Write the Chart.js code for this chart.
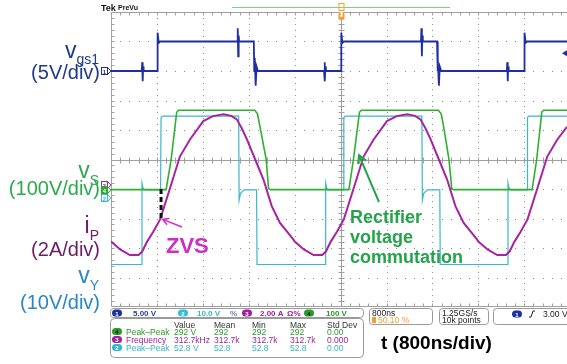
<!DOCTYPE html>
<html>
<head>
<meta charset="utf-8">
<script src="https://cdn.jsdelivr.net/npm/chart.js@4.4.1/dist/chart.umd.min.js"></script>
<style>
  html, body { margin: 0; padding: 0; background: #fff; }
  canvas { display: block; }
</style>
</head>
<body>
<canvas id="scope" width="567" height="364"></canvas>
<script>
// time axis in divisions (800 ns/div), amplitudes in divisions from screen centre

// ch1 gate voltage vgs1 (5V/div)
const vgsT = [0, 0.67, 0.68, 0.69, 0.70, 0.71, 1.01, 1.015, 1.04, 1.07, 2.75, 2.76, 2.77, 2.78, 2.79, 3.11, 3.12, 3.13, 3.15, 3.17, 3.20,
  4.64, 4.65, 4.66, 4.67, 4.68, 5.01, 5.015, 5.04, 5.07, 6.75, 6.76, 6.77, 6.78, 6.79, 7.10, 7.11, 7.12, 7.14, 7.16, 7.19,
  8.62, 8.63, 8.64, 8.65, 8.66, 9.00, 9.005, 9.03, 9.06, 9.93];
const vgsV = [3.0, 3.0, 3.3, 2.65, 3.15, 3.0, 3.0, 4.3, 3.95, 4.0, 4.0, 4.45, 3.5, 4.2, 4.0, 4.0, 3.0, 3.45, 2.5, 3.15, 3.0,
  3.0, 3.3, 2.65, 3.15, 3.0, 3.0, 4.3, 3.95, 4.0, 4.0, 4.45, 3.5, 4.2, 4.0, 4.0, 3.0, 3.45, 2.5, 3.15, 3.0,
  3.0, 3.3, 2.65, 3.15, 3.0, 3.0, 4.3, 3.95, 4.0, 4.0];

// ch2 vY (10V/div)
const vyT = [0, 0.67, 0.675, 0.70, 0.74, 1.08, 1.09, 1.12, 2.78, 2.79, 2.82, 2.90, 3.17, 3.18,
  4.67, 4.675, 4.70, 4.74, 5.06, 5.07, 5.10, 6.77, 6.78, 6.81, 6.89, 7.16, 7.17,
  8.64, 8.645, 8.67, 8.71, 9.06, 9.07, 9.10, 9.93];
const vyV = [-3.56, -3.56, -0.8, -0.98, -1.03, -1.03, 1.42, 1.47, 1.47, -1.38, -1.15, -1.03, -1.03, -3.56,
  -3.56, -0.8, -0.98, -1.03, -1.03, 1.42, 1.47, 1.47, -1.38, -1.15, -1.03, -1.03, -3.56,
  -3.56, -0.8, -0.98, -1.03, -1.03, 1.42, 1.47, 1.47];

// ch3 primary current iP (2A/div)
const ipT = [0, 0.20, 0.41, 0.60, 0.68, 0.78, 0.92, 1.07, 1.29, 1.50, 1.72, 2.01, 2.22, 2.45, 2.62, 2.74, 2.85, 2.96, 3.14, 3.32, 3.50, 3.68, 3.97,
  4.00, 4.20, 4.41, 4.60, 4.68, 4.78, 4.92, 5.07, 5.29, 5.50, 5.72, 6.01, 6.22, 6.45, 6.62, 6.74, 6.85, 6.96, 7.14, 7.32, 7.50, 7.68, 7.97,
  8.00, 8.20, 8.41, 8.60, 8.68, 8.78, 8.92, 9.07, 9.29, 9.50, 9.72, 9.93];
const ipV = [-2.78, -3.05, -3.24, -3.24, -3.12, -2.80, -2.45, -2.03, -0.95, 0.10, 0.68, 1.30, 1.47, 1.53, 1.48, 1.36, 1.05, 0.68, 0.00, -0.68, -1.58, -2.15, -2.71,
  -2.78, -3.05, -3.24, -3.24, -3.12, -2.80, -2.45, -2.03, -0.95, 0.10, 0.68, 1.30, 1.47, 1.53, 1.48, 1.36, 1.05, 0.68, 0.00, -0.68, -1.58, -2.15, -2.71,
  -2.78, -3.05, -3.24, -3.24, -3.12, -2.80, -2.45, -2.03, -0.95, 0.10, 0.68, 1.11];

// ch4 switch-node voltage vS (100V/div)
const vsT = [0, 1.20, 1.31, 1.43, 1.47, 3.13, 3.19, 3.24, 3.38, 3.43, 3.47,
  5.18, 5.28, 5.41, 5.45, 7.13, 7.19, 7.24, 7.36, 7.42, 7.46,
  9.17, 9.27, 9.38, 9.42, 9.93];
const vsV = [-1.02, -1.02, 0, 1.6, 1.67, 1.67, 1.55, 1.15, 0, -0.98, -1.02,
  -1.02, 0, 1.6, 1.67, 1.67, 1.55, 1.15, 0, -0.98, -1.02,
  -1.02, 0, 1.6, 1.67, 1.67];

// ground reference markers on the left edge
const refNames = ['1', '3', '4', '2'];
const refLevels = [3.0, -0.86, -1.03, -1.32];
const refColors = ['#1f2fa0', '#a8239f', '#2fa82f', '#3ab7c9'];

// measurement table
const measHead = ['Value', 'Mean', 'Min', 'Max', 'Std Dev'];
const measNames = ['Peak\u2013Peak', 'Frequency', 'Peak\u2013Peak'];
const measCh = ['4', '3', '2'];
const measRows = [
  ['292 V', '292', '292', '292', '0.00'],
  ['312.7kHz', '312.7k', '312.7k', '312.7k', '0.000'],
  ['52.8 V', '52.8', '52.8', '52.8', '0.00']
];
const measColors = ['#2a9a2a', '#a020a0', '#30b8c8'];

const toPts = (t, v) => t.map((x, i) => ({ x: x, y: v[i] }));

const graticule = {
  id: 'graticule',
  beforeDatasetsDraw(chart) {
    const { ctx, chartArea: a, scales: { x, y } } = chart;
    ctx.save();
    ctx.fillStyle = '#8e8e8e';
    for (let i = 1; i <= 9; i++) {
      if (i === 5) continue;
      const px = Math.round(x.getPixelForValue(i));
      for (let k = 1; k < 50; k++) ctx.fillRect(px, Math.round(y.getPixelForValue(-5 + k * 0.2)), 1, 1);
    }
    for (let j = -4; j <= 4; j++) {
      if (j === 0) continue;
      const py = Math.round(y.getPixelForValue(j));
      for (let k = 1; k < 50; k++) {
        const px = Math.round(x.getPixelForValue(k * 0.2));
        if (px < a.right) ctx.fillRect(px, py, 1, 1);
      }
    }
    ctx.strokeStyle = '#a0a0a0';
    ctx.lineWidth = 1;
    const cx = Math.round(x.getPixelForValue(5)) + 0.5;
    const cy = Math.round(y.getPixelForValue(0)) + 0.5;
    const L = Math.round(a.left) + 0.5, T = Math.round(a.top) + 0.5, B = Math.round(a.bottom) - 0.5;
    ctx.beginPath();
    ctx.moveTo(L, cy); ctx.lineTo(a.right, cy);
    ctx.moveTo(cx, T); ctx.lineTo(cx, B);
    ctx.moveTo(a.right, T); ctx.lineTo(L, T); ctx.lineTo(L, B); ctx.lineTo(a.right, B);
    for (let k = 1; k < 50; k++) {
      const px = Math.round(x.getPixelForValue(k * 0.2)) + 0.5;
      if (px > a.right) break;
      ctx.moveTo(px, cy - 3); ctx.lineTo(px, cy + 3);
      ctx.moveTo(px, T); ctx.lineTo(px, T + 3);
      ctx.moveTo(px, B); ctx.lineTo(px, B - 3);
    }
    for (let k = 1; k < 50; k++) {
      const py = Math.round(y.getPixelForValue(-5 + k * 0.2)) + 0.5;
      ctx.moveTo(cx - 3, py); ctx.lineTo(cx + 3, py);
      ctx.moveTo(L, py); ctx.lineTo(L + 3, py);
    }
    ctx.stroke();
    ctx.restore();
  }
};

function rrect(ctx, x, y, w, h, r) {
  ctx.beginPath();
  ctx.moveTo(x + r, y);
  ctx.arcTo(x + w, y, x + w, y + h, r);
  ctx.arcTo(x + w, y + h, x, y + h, r);
  ctx.arcTo(x, y + h, x, y, r);
  ctx.arcTo(x, y, x + w, y, r);
  ctx.closePath();
}

function arrow(ctx, x1, y1, x2, y2, color, w, head) {
  const a = Math.atan2(y2 - y1, x2 - x1);
  ctx.strokeStyle = color;
  ctx.lineWidth = w;
  ctx.beginPath();
  ctx.moveTo(x1, y1); ctx.lineTo(x2, y2);
  ctx.moveTo(x2 - head * Math.cos(a - 0.5), y2 - head * Math.sin(a - 0.5));
  ctx.lineTo(x2, y2);
  ctx.lineTo(x2 - head * Math.cos(a + 0.5), y2 - head * Math.sin(a + 0.5));
  ctx.stroke();
}

function pill(ctx, x, y, color, label, txt) {
  ctx.fillStyle = color;
  rrect(ctx, x, y, 10, 7, 3.5);
  ctx.fill();
  ctx.fillStyle = txt;
  ctx.font = 'bold 6px "Liberation Sans"';
  ctx.textAlign = 'center';
  ctx.fillText(label, x + 5, y + 6);
  ctx.textAlign = 'left';
}

const overlay = {
  id: 'overlay',
  afterDraw(chart) {
    const { ctx, scales: { x, y } } = chart;
    const px = v => x.getPixelForValue(v);
    const py = v => y.getPixelForValue(v);
    ctx.save();
    ctx.textBaseline = 'alphabetic';

    // scope header
    ctx.fillStyle = '#111';
    ctx.font = 'bold 9px "Liberation Sans"';
    ctx.fillText('Tek', 101, 11);
    ctx.font = 'bold 7px "Liberation Sans"';
    ctx.fillText('PreVu', 118, 10);
    ctx.strokeStyle = '#7fcf7f';
    ctx.lineWidth = 1;
    ctx.beginPath(); ctx.moveTo(232, 7.5); ctx.lineTo(450, 7.5); ctx.stroke();
    const tx = Math.round(px(5)) + 0.5;
    ctx.strokeStyle = '#f0a030';
    ctx.strokeRect(tx - 2.5, 3.5, 5, 7);
    ctx.fillStyle = '#f0a030';
    rrect(ctx, tx - 3, 12, 6, 8, 2); ctx.fill();
    ctx.fillStyle = '#fff';
    ctx.fillRect(tx - 1, 12, 2, 5);

    // ground reference markers
    refNames.forEach((n, i) => {
      const yy = Math.round(py(refLevels[i]));
      ctx.fillStyle = i === 2 ? refColors[i] : '#fff';
      ctx.strokeStyle = refColors[i];
      ctx.lineWidth = 1;
      ctx.fillRect(101.5, yy - 3.5, 6, 7);
      ctx.strokeRect(101.5, yy - 3.5, 6, 7);
      ctx.beginPath(); ctx.moveTo(108, yy - 3); ctx.lineTo(111, yy); ctx.lineTo(108, yy + 3); ctx.stroke();
      ctx.fillStyle = i === 2 ? '#fff' : refColors[i];
      ctx.font = 'bold 6px "Liberation Sans"';
      ctx.textAlign = 'center';
      ctx.fillText(n, 104.5, yy + 2.5);
      ctx.textAlign = 'left';
    });
    // trigger level marker on the right edge
    ctx.fillStyle = '#1f2fa0';
    const ty = py(3.6);
    ctx.beginPath(); ctx.moveTo(562, ty); ctx.lineTo(567, ty - 3); ctx.lineTo(567, ty + 3); ctx.fill();

    // signal labels on the left
    const sigLabel = (main, sub, unit, color, yMain, ySub, yUnit) => {
      const right = 99;
      ctx.fillStyle = color;
      ctx.textAlign = 'left';
      ctx.font = '14px "Liberation Sans"';
      const sw = ctx.measureText(sub).width;
      ctx.font = '23px "Liberation Sans"';
      const mw = ctx.measureText(main).width;
      ctx.fillText(main, right - sw - mw, yMain);
      ctx.font = '14px "Liberation Sans"';
      ctx.fillText(sub, right - sw, ySub);
      ctx.font = '20px "Liberation Sans"';
      ctx.textAlign = 'right';
      ctx.fillText(unit, right + 1, yUnit);
      ctx.textAlign = 'left';
    };
    sigLabel('v', 'gs1', '(5V/div)', '#1e3a8c', 58, 64, 79);
    sigLabel('v', 'S', '(100V/div)', '#2daa4f', 178, 185, 195);
    sigLabel('i', 'P', '(2A/div)', '#6d2066', 233, 240, 256);
    sigLabel('v', 'Y', '(10V/div)', '#2b86c8', 283, 290, 309);

    // ZVS annotation
    const zx = px(1.09), zy = py(-2.03);
    ctx.strokeStyle = '#111';
    ctx.lineWidth = 3;
    ctx.setLineDash([5, 3]);
    ctx.beginPath(); ctx.moveTo(zx, py(-1.0)); ctx.lineTo(zx, zy); ctx.stroke();
    ctx.setLineDash([]);
    arrow(ctx, 182, 227, zx + 1.5, zy, '#cc2fc8', 1.5, 7);
    ctx.fillStyle = '#cc2fc8';
    ctx.font = 'bold 22px "Liberation Sans"';
    ctx.fillText('ZVS', 166, 253);

    // rectifier commutation annotation
    arrow(ctx, 379, 202, px(5.40), py(0.15), '#24a34a', 2, 9);
    ctx.fillStyle = '#24a34a';
    ctx.font = 'bold 18px "Liberation Sans"';
    ctx.fillText('Rectifier', 350, 223);
    ctx.fillText('voltage', 350, 243);
    ctx.fillText('commutation', 350, 263);

    // bottom status bar
    ctx.strokeStyle = '#9a9a9a';
    ctx.lineWidth = 1;
    rrect(ctx, 110.5, 308.5, 253, 9, 3); ctx.stroke();
    ctx.font = 'bold 8px "Liberation Sans"';
    pill(ctx, 112, 309.5, '#1f2fa0', '1', '#fff');
    ctx.font = 'bold 8px "Liberation Sans"';
    ctx.fillStyle = '#2a3aa8'; ctx.fillText('5.00 V', 133, 316);
    pill(ctx, 178, 309.5, '#30c0d0', '2', '#fff');
    ctx.font = 'bold 8px "Liberation Sans"';
    ctx.fillStyle = '#30b8c8'; ctx.fillText('10.0 V', 197, 316);
    ctx.fillStyle = '#6080c0'; ctx.fillText('%', 230, 316);
    pill(ctx, 242, 309.5, '#a020a0', '3', '#fff');
    ctx.font = 'bold 8px "Liberation Sans"';
    ctx.fillStyle = '#a020a0'; ctx.fillText('2.00 A', 260, 316);
    ctx.fillText('\u03a9%', 287, 316);
    pill(ctx, 304, 309.5, '#2a9a2a', '4', '#111');
    ctx.font = 'bold 8px "Liberation Sans"';
    ctx.fillStyle = '#2a9a2a'; ctx.fillText('100 V', 326, 316);

    // measurement table
    ctx.strokeStyle = '#9a9a9a';
    rrect(ctx, 110.5, 318.5, 253, 39, 4); ctx.stroke();
    const cols = [174, 214, 252, 290, 327];
    ctx.font = '8.5px "Liberation Sans"';
    ctx.fillStyle = '#333';
    measHead.forEach((h, i) => ctx.fillText(h, cols[i], 327.5));
    const rowY = [334.5, 342.5, 350.5];
    measRows.forEach((row, r) => {
      pill(ctx, 112, rowY[r] - 6.5, measColors[r], measCh[r], r === 0 ? '#111' : '#fff');
      ctx.font = '8.5px "Liberation Sans"';
      ctx.fillStyle = measColors[r];
      ctx.fillText(measNames[r], 126, rowY[r]);
      row.forEach((v, i) => ctx.fillText(v, cols[i], rowY[r]));
    });

    // timebase and acquisition boxes
    ctx.strokeStyle = '#9a9a9a';
    rrect(ctx, 369.5, 308.5, 63, 16, 3); ctx.stroke();
    rrect(ctx, 439.5, 308.5, 49, 16, 3); ctx.stroke();
    rrect(ctx, 493.5, 308.5, 80, 16, 3); ctx.stroke();
    ctx.font = '8.5px "Liberation Sans"';
    ctx.fillStyle = '#222';
    ctx.fillText('800ns', 372, 315.5);
    ctx.fillText('1.25GS/s', 442, 315.5);
    ctx.fillText('10k points', 442, 322.5);
    ctx.fillStyle = '#f0a030';
    ctx.fillRect(372, 317, 4, 6);
    ctx.fillText('50.10 %', 378, 322.5);
    pill(ctx, 512, 310.5, '#1f2fa0', '1', '#fff');
    ctx.strokeStyle = '#222';
    ctx.lineWidth = 1;
    ctx.beginPath(); ctx.moveTo(529, 317); ctx.lineTo(531, 317); ctx.lineTo(533, 311); ctx.lineTo(535, 311); ctx.stroke();
    ctx.font = '8.5px "Liberation Sans"';
    ctx.fillStyle = '#222';
    ctx.fillText('3.00 V', 543, 316.5);

    // time scale caption
    ctx.fillStyle = '#000';
    ctx.font = 'bold 19px "Liberation Sans"';
    ctx.fillText('t (800ns/div)', 381, 349);
    ctx.restore();
  }
};

new Chart(document.getElementById('scope'), {
  type: 'line',
  data: {
    datasets: [
      { label: 'iP', data: toPts(ipT, ipV), borderColor: '#a8239f', borderWidth: 2, order: 1 },
      { label: 'vS', data: toPts(vsT, vsV), borderColor: '#2fb02f', borderWidth: 1.6, order: 2 },
      { label: 'vY', data: toPts(vyT, vyV), borderColor: '#3ab7c9', borderWidth: 1.2, order: 3 },
      { label: 'vgs1', data: toPts(vgsT, vgsV), borderColor: '#1f2fa0', borderWidth: 1.8, order: 4 }
    ]
  },
  options: {
    responsive: false,
    animation: false,
    devicePixelRatio: 1,
    layout: { padding: { left: 111, top: 12, right: 0, bottom: 57 } },
    elements: { point: { radius: 0 }, line: { tension: 0 } },
    plugins: { legend: { display: false }, tooltip: { enabled: false } },
    scales: {
      x: { type: 'linear', min: 0, max: 9.93, display: false },
      y: { min: -5, max: 5, display: false }
    }
  },
  plugins: [graticule, overlay]
});
</script>
</body>
</html>
